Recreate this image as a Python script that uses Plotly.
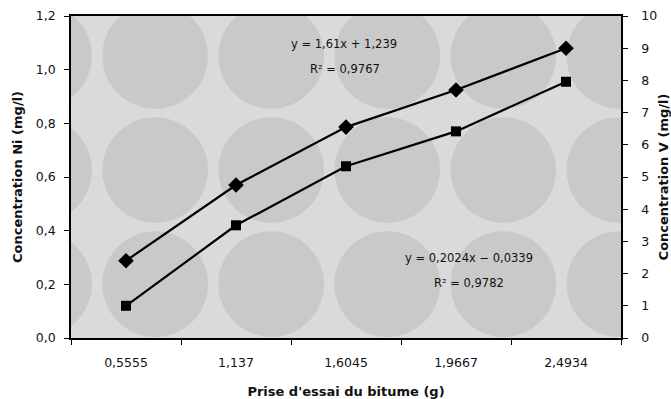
import plotly.graph_objects as go

# Sample masses (category labels on the x axis)
prises = ["0,5555", "1,137", "1,6045", "1,9667", "2,4934"]

# Nickel concentration, left axis (mg/l)
conc_ni = [0.12, 0.42, 0.64, 0.77, 0.955]

# Vanadium concentration, right axis (mg/l)
conc_v = [2.4, 4.75, 6.55, 7.7, 9.0]

left_ticks = [0.0, 0.2, 0.4, 0.6, 0.8, 1.0, 1.2]
right_ticks = list(range(0, 11))

FONT = "DejaVu Sans, Verdana, sans-serif"

fig = go.Figure()

fig.add_trace(go.Scatter(
    x=prises, y=conc_ni, mode="lines+markers", name="Ni",
    line=dict(color="black", width=2.2),
    marker=dict(symbol="square", size=10, color="black"),
    yaxis="y", cliponaxis=False,
))
fig.add_trace(go.Scatter(
    x=prises, y=conc_v, mode="lines+markers", name="V",
    line=dict(color="black", width=2.2),
    marker=dict(symbol="diamond", size=12, color="black"),
    yaxis="y2", cliponaxis=False,
))

# Halftone-like background: grid of grey discs behind the curves
shapes = []
cx0, cstep, rx = -0.79, 1.055, 0.48
cy_list = [1.051, 0.626, 0.201]
ry = 0.197
for cy in cy_list:
    for i in range(6):
        cx = cx0 + i * cstep
        shapes.append(dict(
            type="circle", xref="x", yref="y", layer="below",
            x0=cx - rx, x1=cx + rx, y0=cy - ry, y1=cy + ry,
            fillcolor="#c9c9c9", line=dict(width=0),
        ))

annotations = [
    dict(text="y = 1,61x + 1,239", x=0.496, y=0.913),
    dict(text="R² = 0,9767", x=0.498, y=0.835),
    dict(text="y = 0,2024x − 0,0339", x=0.724, y=0.248),
    dict(text="R² = 0,9782", x=0.724, y=0.171),
]
for a in annotations:
    a.update(xref="paper", yref="paper", showarrow=False,
             xanchor="center", yanchor="middle",
             font=dict(family=FONT, size=11.5, color="#111"))

fig.update_layout(
    width=671, height=399,
    margin=dict(l=71, r=50, t=16, b=61),
    paper_bgcolor="white",
    plot_bgcolor="#dadada",
    showlegend=False,
    separators=",.",
    font=dict(family=FONT, size=12, color="#111"),
    shapes=shapes,
    annotations=annotations,
    xaxis=dict(
        type="category", range=[-0.5, 4.5], automargin=False,
        showgrid=False, zeroline=False,
        showline=True, linecolor="black", linewidth=1.5, mirror=True,
        ticks="outside", ticklen=5, tickcolor="black", tickson="boundaries",
        tickfont=dict(size=12.5), ticklabelstandoff=12,
        title=dict(text="<b>Prise d'essai du bitume (g)</b>", standoff=18,
                   font=dict(size=13)),
    ),
    yaxis=dict(
        range=[0, 1.2], tickvals=left_ticks, tickformat=".1f",
        automargin=False,
        showgrid=False, zeroline=False,
        showline=True, linecolor="black", linewidth=1.5,
        ticks="outside", ticklen=5, tickcolor="black",
        tickfont=dict(size=12.5), ticklabelstandoff=6,
        title=dict(text="<b>Concentration Ni (mg/l)</b>", standoff=10,
                   font=dict(size=13)),
    ),
    yaxis2=dict(
        range=[0, 10], tickvals=right_ticks, automargin=False,
        overlaying="y", side="right",
        showgrid=False, zeroline=False,
        showline=True, linecolor="black", linewidth=1.5,
        ticks="outside", ticklen=5, tickcolor="black",
        tickfont=dict(size=12.5), ticklabelstandoff=11,
        title=dict(text="<b>Concentration V (mg/l)</b>", standoff=21,
                   font=dict(size=13)),
    ),
)

fig.write_html("out.html")
